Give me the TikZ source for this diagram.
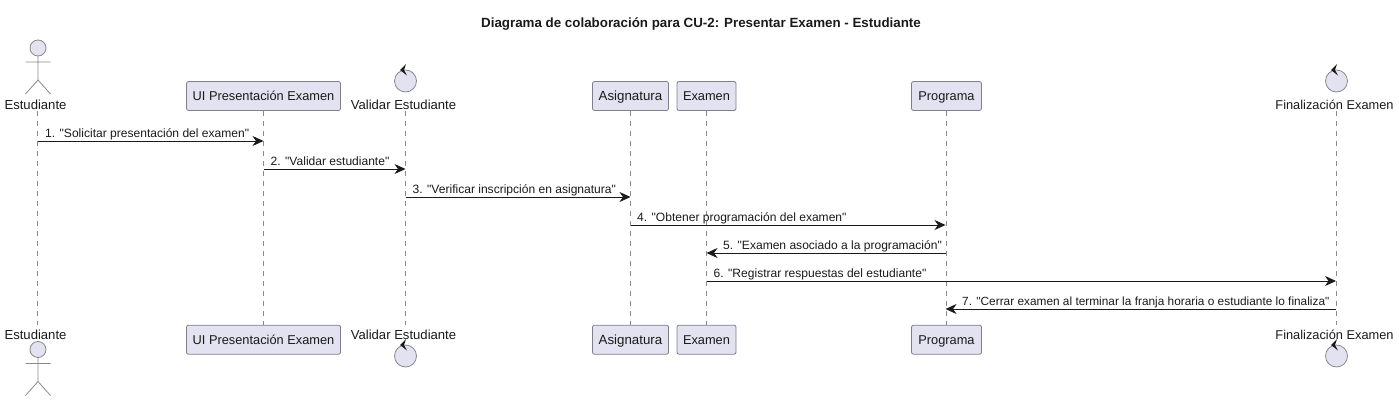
\documentclass[tikz,border=0pt]{standalone}
\usepackage{fontspec}
\setmainfont{Liberation Sans}[Ligatures=TeXOff]
\usetikzlibrary{arrows.meta}
\definecolor{pfill}{HTML}{E2E2F0}
\definecolor{pline}{HTML}{7F7F8C}
\definecolor{lifeln}{HTML}{8A8A8A}
\definecolor{ink}{HTML}{1A1A1A}
\newcommand{\fsz}[1]{\fontsize{#1}{15}\selectfont}
\tikzset{
  x=1pt,y=-1pt,
  pbox/.style={draw=pline,fill=pfill,rounded corners=2pt,line width=0.8pt,anchor=center,inner sep=0pt,text=ink,text height=10pt,text depth=0pt,font=\fsz{12.8}},
  plabel/.style={text=ink,inner sep=0pt,font=\fsz{13.1}},
  mlabel/.style={text=ink,inner sep=0pt,anchor=base west,font=\fsz{12.05}},
  life/.style={draw=lifeln,line width=0.7pt,dash pattern=on 5pt off 5pt},
  msg/.style={draw=ink,line width=0.9pt,-{Stealth[length=11pt,width=10pt,inset=3.5pt]}},
  figline/.style={draw=lifeln,line width=0.8pt},
  figfill/.style={draw=lifeln,fill=pfill,line width=0.8pt},
}
\newcommand{\actorfig}[2]{% x, head centre y
  \draw[figfill] (#1,#2) circle[radius=8];
  \draw[figline] (#1,#2+8) -- (#1,#2+32) (#1-12.5,#2+14) -- (#1+12.5,#2+14)
    (#1-12.5,#2+46) -- (#1,#2+32) -- (#1+12.5,#2+46);
}
\newcommand{\controlfig}[2]{% x, circle centre y
  \draw[figfill] (#1,#2) circle[radius=11];
  \fill[ink] (#1-5.5,#2-11) -- (#1+0.5,#2-17) -- (#1-1.5,#2-11) -- (#1+1.5,#2-5.5) -- cycle;
}
\begin{document}
\begin{tikzpicture}
\useasboundingbox (0,0) rectangle (1399,401);
\node[inner sep=0pt,text=ink,font=\bfseries\fsz{13.35}] (title) at (701,24) {Diagrama de colaboración para CU-2: Presentar Examen - Estudiante};

% lifeline end points
\coordinate (e1t) at (37.5,111); \coordinate (e1b) at (37.5,325);
\coordinate (v1t) at (405.5,111); \coordinate (v1b) at (405.5,325);
\coordinate (f1t) at (1336,111); \coordinate (f1b) at (1336,325);

% participant boxes
\node[pbox,minimum width=154pt,minimum height=29pt] (uit) at (263.5,96) {UI Presentación Examen};
\node[pbox,minimum width=154pt,minimum height=29pt] (uib) at (263.5,339.7) {UI Presentación Examen};
\node[pbox,minimum width=76pt,minimum height=29pt,font=\fsz{13.3}] (ast) at (630.5,96) {Asignatura};
\node[pbox,minimum width=76pt,minimum height=29pt,font=\fsz{13.3}] (asb) at (630.5,339.7) {Asignatura};
\node[pbox,minimum width=59pt,minimum height=29pt] (ext) at (706.5,96) {Examen};
\node[pbox,minimum width=59pt,minimum height=29pt] (exb) at (706.5,339.7) {Examen};
\node[pbox,minimum width=70pt,minimum height=29pt] (prt) at (946.5,96) {Programa};
\node[pbox,minimum width=70pt,minimum height=29pt] (prb) at (946.5,339.7) {Programa};

% lifelines
\draw[life] (e1t) -- (e1b);
\draw[life] (uit.south) -- (uib.north);
\draw[life] (v1t) -- (v1b);
\draw[life] (ast.south) -- (asb.north);
\draw[life] (ext.south) -- (exb.north);
\draw[life] (prt.south) -- (prb.north);
\draw[life] (f1t) -- (f1b);

% actor and controls, top and bottom
\actorfig{38}{48}
\actorfig{38}{349.5}
\controlfig{405.5}{81}
\controlfig{405.5}{356}
\controlfig{1336.5}{81}
\controlfig{1336.5}{356}

\node[plabel] (est) at (35.5,104.5) {Estudiante};
\node[plabel] (esb) at (35.5,334.5) {Estudiante};
\node[plabel] (vat) at (403.5,104.5) {Validar Estudiante};
\node[plabel] (vab) at (403.5,334.5) {Validar Estudiante};
\node[plabel,font=\fsz{12.8}] (fit) at (1334.5,104.5) {Finalización Examen};
\node[plabel,font=\fsz{12.8}] (fib) at (1334.5,334.5) {Finalización Examen};

% anchors on lifelines for messages
\foreach \n/\xx in {e/37.5,u/263.5,v/405.5,a/630.5,x/706.5,p/945.5,f/1336}{
  \foreach \m/\yy in {1/141,2/169,3/197,4/225,5/253,6/281,7/309}{
    \coordinate (\n\m) at (\xx,\yy);
  }
}
\draw[msg] (e1) -- (u1);
\draw[msg] (u2) -- (v2);
\draw[msg] (v3) -- (a3);
\draw[msg] (a4) -- (p4);
\draw[msg] (p5) -- (x5);
\draw[msg] (x6) -- (f6);
\draw[msg] (f7) -- (p7);

\node[mlabel] (m1) at (45,137) {1. "Solicitar presentación del examen"};
\node[mlabel] (m2) at (270.5,165) {2. "Validar estudiante"};
\node[mlabel] (m3) at (412.5,193) {3. "Verificar inscripción en asignatura"};
\node[mlabel] (m4) at (637,221) {4. "Obtener programación del examen"};
\node[mlabel] (m5) at (723,249) {5. "Examen asociado a la programación"};
\node[mlabel] (m6) at (713.5,277) {6. "Registrar respuestas del estudiante"};
\node[mlabel,font=\fsz{11.85}] (m7) at (962,305) {7. "Cerrar examen al terminar la franja horaria o estudiante lo finaliza"};
\end{tikzpicture}
\end{document}
